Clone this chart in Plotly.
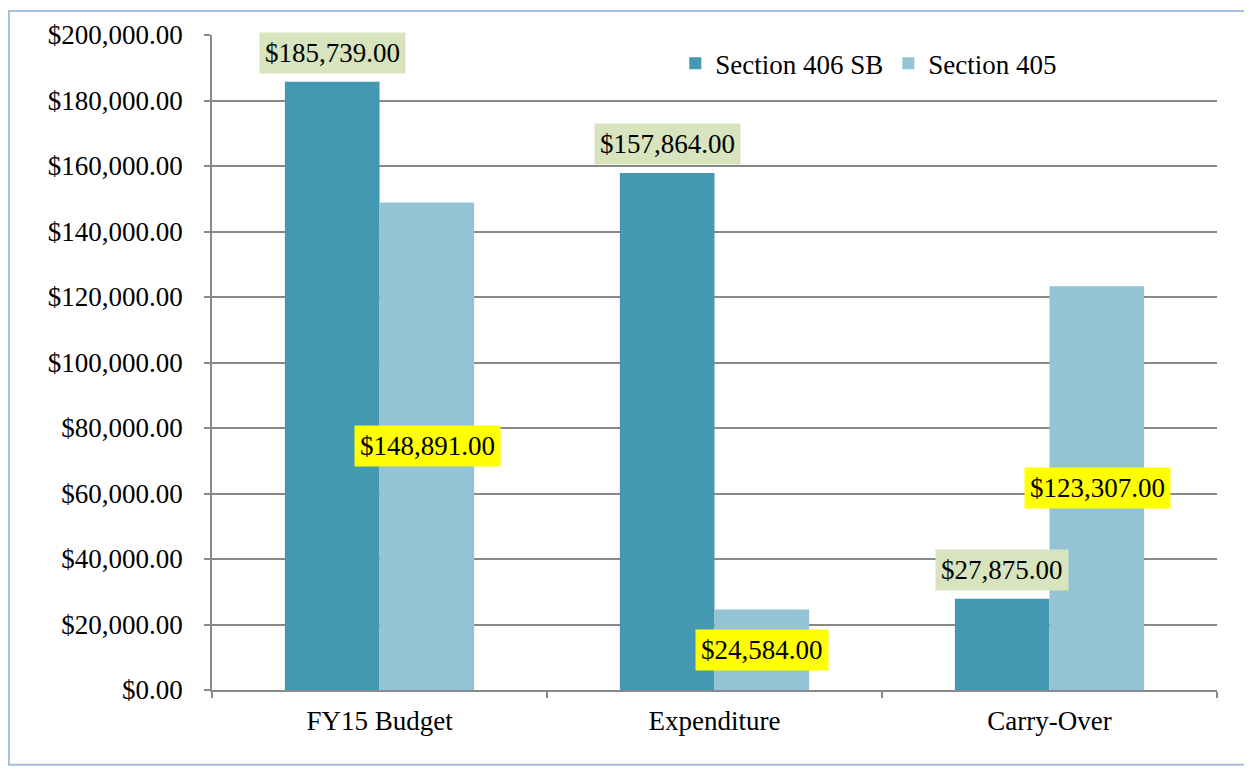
import plotly.graph_objects as go

categories = ["FY15 Budget", "Expenditure", "Carry-Over"]
series_names = ["Section 406 SB", "Section 405"]
section_406 = [185739, 157864, 27875]
section_405 = [148891, 24584, 123307]
y_ticks = [0, 20000, 40000, 60000, 80000, 100000, 120000, 140000, 160000, 180000, 200000]

C406 = "#4399B1"
C405 = "#93C3D5"
FONT = "Liberation Serif, Times New Roman, serif"
GRID = "#898989"
FS = 27

# the page body adds an 8px offset; compensate so the plot lands where the reference has it
OFF = 8
W, H = 1252 - OFF, 769 - OFF
ML, MR, MT, MB = 212 - OFF, 35, 33 - OFF, 79
PW, PH = W - ML - MR, H - MT - MB

fig = go.Figure()
fig.add_trace(go.Bar(x=categories, y=section_406, name=series_names[0],
                     marker=dict(color=C406, line=dict(width=0)), hoverinfo="skip"))
fig.add_trace(go.Bar(x=categories, y=section_405, name=series_names[1],
                     marker=dict(color=C405, line=dict(width=0)), hoverinfo="skip"))

def fmt(v):
    return "${:,.2f}".format(v)

ann = []
for c, v in zip(categories, section_406):
    ann.append(dict(x=c, y=v, xref="x", yref="y", text=fmt(v), showarrow=False,
                    xshift=-47.5, yshift=8, yanchor="bottom",
                    bgcolor="#D7E4BD", borderpad=5,
                    font=dict(family=FONT, size=FS, color="black")))
for c, v in zip(categories, section_405):
    ann.append(dict(x=c, y=v / 2, xref="x", yref="y", text=fmt(v), showarrow=False,
                    xshift=47.5, yanchor="middle",
                    bgcolor="#FFFF00", borderpad=5,
                    font=dict(family=FONT, size=FS, color="black")))

# outer border of the chart area
shapes = [dict(type="rect", xref="paper", yref="paper",
               x0=(1 - ML) / PW, x1=(W - 4 - ML) / PW,
               y0=-(H - 4 - MT - PH) / PH, y1=1 + (MT - 1) / PH,
               line=dict(color="#A7BFDE", width=2), fillcolor="rgba(0,0,0,0)", layer="below")]

fig.update_layout(
    width=W, height=H,
    margin=dict(l=ML, r=MR, t=MT, b=MB, pad=0),
    paper_bgcolor="white", plot_bgcolor="white",
    barmode="group", bargap=0.435, bargroupgap=0,
    font=dict(family=FONT, size=FS, color="black"),
    showlegend=True,
    legend=dict(orientation="h", x=0.461, y=0.956, xanchor="left", yanchor="middle",
                font=dict(family=FONT, size=FS, color="black"),
                bgcolor="rgba(0,0,0,0)", itemwidth=30, tracegroupgap=0),
    annotations=ann,
    shapes=shapes,
)
fig.update_yaxes(range=[0, 200000], tickvals=y_ticks,
                 ticktext=[fmt(v) for v in y_ticks],
                 showgrid=True, gridcolor=GRID, gridwidth=1.5,
                 showline=True, linecolor=GRID, linewidth=1.5,
                 ticks="outside", ticklen=6, tickcolor=GRID, tickwidth=1.5,
                 ticklabelstandoff=16,
                 zeroline=False, tickfont=dict(family=FONT, size=FS, color="black"))
fig.update_xaxes(showline=True, linecolor=GRID, linewidth=1.5,
                 ticks="outside", ticklen=6, tickcolor=GRID, tickwidth=1.5,
                 tickson="boundaries", showgrid=False, ticklabelstandoff=6,
                 tickfont=dict(family=FONT, size=FS, color="black"))

fig.write_html("out.html")
